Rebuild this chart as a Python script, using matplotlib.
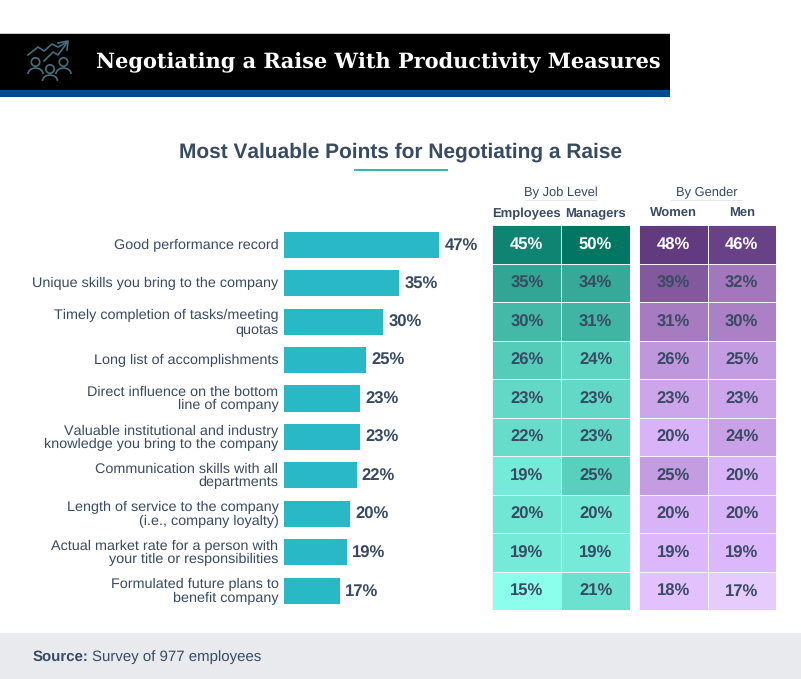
import matplotlib
matplotlib.use("Agg")
import matplotlib.pyplot as plt
from matplotlib.colors import LinearSegmentedColormap, Normalize
from matplotlib.patches import Rectangle, Circle, Arc
import numpy as np

plt.rcParams['font.family'] = ['Liberation Sans', 'DejaVu Sans']
plt.rcParams['text.hinting'] = 'no_hinting'
plt.rcParams['text.hinting_factor'] = 8
plt.rcParams['text.kerning_factor'] = 6

W, H = 801, 679
DARK = '#394A63'

categories = [
    "Good performance record",
    "Unique skills you bring to the company",
    "Timely completion of tasks/meeting\nquotas",
    "Long list of accomplishments",
    "Direct influence on the bottom\nline of company",
    "Valuable institutional and industry\nknowledge you bring to the company",
    "Communication skills with all\ndepartments",
    "Length of service to the company\n(i.e., company loyalty)",
    "Actual market rate for a person with\nyour title or responsibilities",
    "Formulated future plans to\nbenefit company",
]
overall = [47, 35, 30, 25, 23, 23, 22, 20, 19, 17]
employees = [45, 35, 30, 26, 23, 22, 19, 20, 19, 15]
managers = [50, 34, 31, 24, 23, 23, 25, 20, 19, 21]
women = [48, 39, 31, 26, 23, 20, 25, 20, 19, 18]
men = [46, 32, 30, 25, 23, 24, 20, 20, 19, 17]

job_labels = ["Employees", "Managers"]
gender_labels = ["Women", "Men"]

teal = LinearSegmentedColormap.from_list("teal", [
    (0.0, '#8CFFEC'), (4/35, '#76EAD9'), (10/35, '#59CFBE'),
    (15/35, '#44B9A8'), (20/35, '#32A594'), (30/35, '#108472'), (1.0, '#007663')])
purple = LinearSegmentedColormap.from_list("purple", [
    (0.0, '#E6CCFD'), (2/31, '#DDB6FB'), (3/31, '#D9B3F7'), (8/31, '#C49CE2'),
    (14/31, '#A67BBF'), (22/31, '#82599D'), (1.0, '#613A80')])

fig = plt.figure(figsize=(W/100, H/100), dpi=100, facecolor='white')

def px_axes(x0, y0, x1, y1):
    return fig.add_axes([x0/W, 1-y1/H, (x1-x0)/W, (y1-y0)/H])

# full-figure overlay in pixel coordinates for decoration and text
bg = fig.add_axes([0, 0, 1, 1], zorder=0)
bg.set_xlim(0, W); bg.set_ylim(H, 0); bg.axis('off')
bg.add_patch(Rectangle((0, 33), 670, 1.2, color='#C8C8C8', lw=0))
bg.add_patch(Rectangle((0, 34), 670, 56, color='black', lw=0))
bg.add_patch(Rectangle((0, 90), 670, 7, color='#004A8C', lw=0))
bg.add_patch(Rectangle((0, 633), W, 46, color='#E8EAED', lw=0))
bg.text(96, 62.5, "Negotiating a Raise With Productivity Measures", color='white',
        family=['DejaVu Serif'], weight='bold', fontsize=15.0, va='center', ha='left')
bg.text(400.5, 152.5, "Most Valuable Points for Negotiating a Raise", color=DARK,
        weight='bold', fontsize=15.0, va='center', ha='center')
bg.add_patch(Rectangle((354, 169), 94, 2, color='#3AB5AE', lw=0))
bg.text(33, 661, "Source:", color=DARK, weight='bold', fontsize=10.8, va='baseline')
bg.text(92.5, 661, "Survey of 977 employees", color=DARK, fontsize=10.8, va='baseline')

# icon
ic = '#44707E'
bg.plot([28, 38, 44, 52, 58, 67], [55, 47, 51, 44, 47, 42], color=ic, lw=1.2)
bg.plot([44, 53, 58, 67.5], [61, 52, 55, 42], color=ic, lw=1.2)
bg.plot([58, 68, 67], [43, 41, 50], color=ic, lw=1.2)
for cx, cy in [(35.5, 62), (50, 69), (63.5, 62)]:
    bg.add_patch(Circle((cx, cy), 4.2, fill=False, ec=ic, lw=1.2))
    bg.add_patch(Arc((cx, cy+12), 15, 12, theta1=180, theta2=360, ec=ic, lw=1.2))

# bar chart
y = np.arange(len(categories))
ax = px_axes(284, 225.5, 480, 610)
ax.barh(y, overall, height=0.68, color='#29B9C6')
ax.set_xlim(0, 196/3.3)
ax.set_ylim(len(categories)-0.5, -0.5)
ax.axis('off')
for i, v in enumerate(overall):
    ax.text(v + 1.6, i + 0.02, f"{v}%", color=DARK, weight='bold', fontsize=12, va='center', ha='left')
    ax.text(-1.7, i + 0.02, categories[i], color=DARK, fontsize=10.4, va='center', ha='right',
            linespacing=1.03, clip_on=False)

# heat tables
def table(x0, x1, cols, cmap, vmin, vmax, labels, heading, hx0, hx1):
    a = px_axes(x0, 225, x1, 610)
    data = np.array(cols).T
    a.pcolormesh(data, cmap=cmap, norm=Normalize(vmin, vmax),
                 edgecolors='#F0F4F3', linewidth=0.7)
    a.set_ylim(len(data), 0)
    a.axis('off')
    for r in range(data.shape[0]):
        for c in range(data.shape[1]):
            a.text(c+0.5, r+0.53, f"{data[r, c]}%", ha='center', va='center', weight='bold',
                   fontsize=12, color='white' if data[r, c] >= 45 else DARK)
    for k, lab in enumerate(labels):
        a.text(k+0.5, -0.3, lab, ha='center', va='center', weight='bold', fontsize=9.4,
               color=DARK, clip_on=False)
    bg.text((hx0+hx1)/2, 193, heading, ha='center', va='center', fontsize=9.3, color=DARK)
    bg.add_patch(Rectangle((hx0, 199.5), hx1-hx0, 1.2, color='#DDEBEA', lw=0))

table(492.5, 630, [employees, managers], teal, 15, 50, job_labels, "By Job Level", 525, 597)
table(639, 776, [women, men], purple, 17, 48, gender_labels, "By Gender", 671, 743)

fig.savefig("out.png", dpi=100)
